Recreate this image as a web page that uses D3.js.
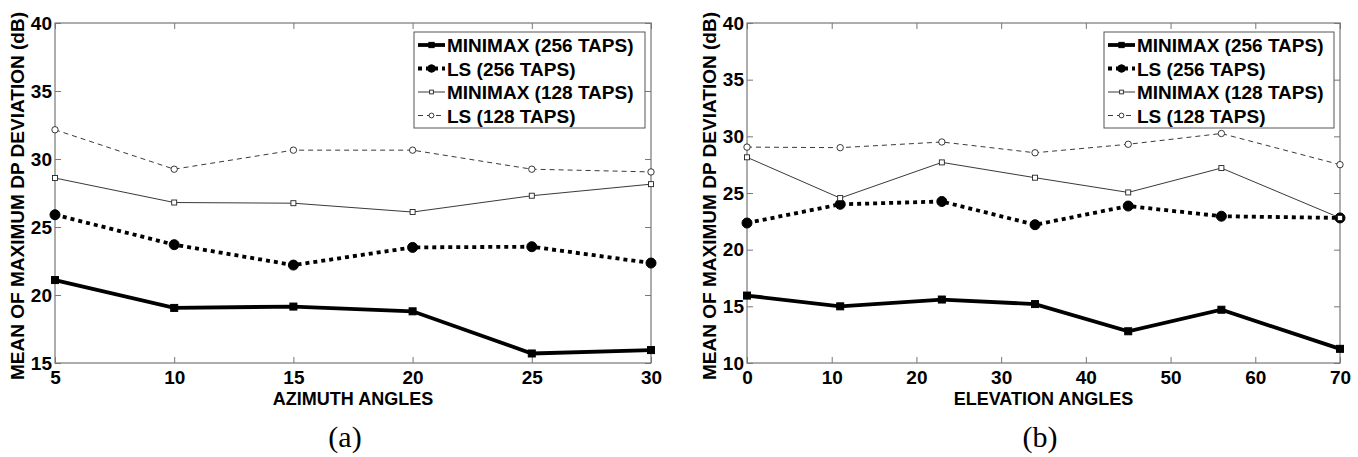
<!DOCTYPE html>
<html lang="en">
<head>
<meta charset="utf-8">
<title>DP deviation vs angles</title>
<script src="https://cdn.jsdelivr.net/npm/d3@7"></script>
<style>
  body { margin: 0; background: #fff; }
  text { font-family: "Liberation Sans", Arial, Helvetica, sans-serif; font-weight: bold; }
</style>
</head>
<body>
<script>
// data
var seriesNames = ["MINIMAX (256 TAPS)", "LS (256 TAPS)", "MINIMAX (128 TAPS)", "LS (128 TAPS)"];

// (a) azimuth
var azimuthAngles = [5, 10, 15, 20, 25, 30];
var azMinimax256 = [21.1, 19.05, 19.15, 18.8, 15.7, 15.95];
var azLs256      = [25.9, 23.7, 22.2, 23.5, 23.55, 22.35];
var azMinimax128 = [28.6, 26.8, 26.75, 26.1, 27.3, 28.15];
var azLs128      = [32.15, 29.25, 30.65, 30.65, 29.25, 29.05];
var azXTicks = [5, 10, 15, 20, 25, 30];
var azYTicks = [15, 20, 25, 30, 35, 40];

// (b) elevation
var elevationAngles = [0, 11, 23, 34, 45, 56, 70];
var elMinimax256 = [15.95, 15.0, 15.6, 15.2, 12.8, 14.7, 11.25];
var elLs256      = [22.35, 24.0, 24.25, 22.2, 23.85, 22.95, 22.8];
var elMinimax128 = [28.15, 24.55, 27.7, 26.35, 25.05, 27.2, 22.8];
var elLs128      = [29.05, 29.0, 29.5, 28.55, 29.3, 30.25, 27.5];
var elXTicks = [0, 10, 20, 30, 40, 50, 60, 70];
var elYTicks = [10, 15, 20, 25, 30, 35, 40];

var svg = d3.select("body").append("svg").attr("width", 1358).attr("height", 457);

// line styles for the 4 series
var styles = [
  {width: 3.8, dash: null,  color: "#000", marker: "square", size: 7,   fill: "#000"},
  {width: 3.8, dash: "4,4", color: "#000", marker: "circle", size: 5,   fill: "#000"},
  {width: 0.9, dash: null,  color: "#222", marker: "square", size: 5,   fill: "#fff"},
  {width: 0.9, dash: "5,4", color: "#222", marker: "circle", size: 3.2, fill: "#fff"}
];

function drawPanel(opt) {
  var g = svg.append("g");
  var x = d3.scaleLinear().domain(opt.xDomain).range([opt.left, opt.right]);
  var y = d3.scaleLinear().domain(opt.yDomain).range([opt.bottom, opt.top]);
  var tick = 6;

  // frame
  g.append("rect")
    .attr("x", opt.left).attr("y", opt.top)
    .attr("width", opt.right - opt.left).attr("height", opt.bottom - opt.top)
    .attr("fill", "none").attr("stroke", "#777").attr("stroke-width", 1.2);

  // ticks, inside on all four sides
  var bottomAxis = d3.axisBottom(x).tickValues(opt.xTicks).tickSizeInner(-tick).tickSizeOuter(0).tickPadding(8);
  var topAxis = d3.axisTop(x).tickValues(opt.xTicks).tickSizeInner(-tick).tickSizeOuter(0).tickFormat("");
  var leftAxis = d3.axisLeft(y).tickValues(opt.yTicks).tickSizeInner(-tick).tickSizeOuter(0).tickPadding(3);
  var rightAxis = d3.axisRight(y).tickValues(opt.yTicks).tickSizeInner(-tick).tickSizeOuter(0).tickFormat("");

  [
    [bottomAxis, "translate(0," + opt.bottom + ")"],
    [topAxis, "translate(0," + opt.top + ")"],
    [leftAxis, "translate(" + opt.left + ",0)"],
    [rightAxis, "translate(" + opt.right + ",0)"]
  ].forEach(function(a) {
    var ax = g.append("g").attr("transform", a[1]).call(a[0]);
    ax.select(".domain").remove();
    ax.selectAll("line").attr("stroke", "#777");
    ax.selectAll("text").attr("fill", "#000").attr("font-size", 19)
      .attr("font-family", "Liberation Sans, Arial, sans-serif").attr("font-weight", "bold");
  });

  // series
  opt.series.forEach(function(vals, i) {
    var st = styles[i];
    var pts = opt.xs.map(function(v, j) { return [v, vals[j]]; });
    var line = d3.line().x(function(d) { return x(d[0]); }).y(function(d) { return y(d[1]); });
    g.append("path").datum(pts)
      .attr("d", line)
      .attr("fill", "none")
      .attr("stroke", st.color)
      .attr("stroke-width", st.width)
      .attr("stroke-dasharray", st.dash);
    drawMarkers(g, pts.map(function(p) { return [x(p[0]), y(p[1])]; }), st, 1);
  });

  // axis titles
  g.append("text")
    .attr("x", (opt.left + opt.right) / 2).attr("y", opt.bottom + 42)
    .attr("text-anchor", "middle").attr("font-size", 18)
    .text(opt.xTitle);

  g.append("text")
    .attr("transform", "translate(" + (opt.left - 31) + "," + ((opt.top + opt.bottom) / 2 + 3) + ") rotate(-90)")
    .attr("text-anchor", "middle").attr("font-size", 19)
    .attr("textLength", 368).attr("lengthAdjust", "spacingAndGlyphs")
    .text("MEAN OF MAXIMUM DP DEVIATION (dB)");

  // panel caption
  g.append("text")
    .attr("x", opt.captionX).attr("y", 447)
    .attr("text-anchor", "middle")
    .style("font-family", "'Liberation Serif', 'Times New Roman', serif")
    .style("font-weight", "normal").attr("font-size", 30)
    .text(opt.caption);

  // legend
  var lg = g.append("g");
  var lx = opt.legendX, ly = 32, lw = opt.right - 6 - lx, rowH = 23.5;
  lg.append("rect")
    .attr("x", lx).attr("y", ly).attr("width", lw).attr("height", 96)
    .attr("fill", "#fff").attr("stroke", "#555").attr("stroke-width", 1);
  seriesNames.forEach(function(name, i) {
    var st = styles[i];
    var cy = ly + 13 + i * rowH;
    lg.append("line")
      .attr("x1", lx + 4).attr("x2", lx + 31).attr("y1", cy).attr("y2", cy)
      .attr("stroke", st.color).attr("stroke-width", st.width)
      .attr("stroke-dasharray", st.dash);
    drawMarkers(lg, [[lx + 17.5, cy]], st, 0.75);
    lg.append("text")
      .attr("x", lx + 33).attr("y", cy + 7)
      .attr("font-size", 19)
      .text(name);
  });
}

function drawMarkers(g, pts, st, k) {
  var s = st.size * k;
  if (st.marker === "square") {
    g.selectAll(null).data(pts).enter().append("rect")
      .attr("x", function(d) { return d[0] - s / 2; })
      .attr("y", function(d) { return d[1] - s / 2; })
      .attr("width", s).attr("height", s)
      .attr("fill", st.fill).attr("stroke", st.color).attr("stroke-width", st.fill === "#fff" ? 0.9 : 1);
  } else {
    g.selectAll(null).data(pts).enter().append("circle")
      .attr("cx", function(d) { return d[0]; })
      .attr("cy", function(d) { return d[1]; })
      .attr("r", s)
      .attr("fill", st.fill).attr("stroke", st.color).attr("stroke-width", st.fill === "#fff" ? 0.9 : 1);
  }
}

drawPanel({
  left: 55, right: 651, top: 23, bottom: 363,
  xDomain: [5, 30], yDomain: [15, 40],
  xTicks: azXTicks, yTicks: azYTicks,
  xs: azimuthAngles,
  series: [azMinimax256, azLs256, azMinimax128, azLs128],
  xTitle: "AZIMUTH ANGLES",
  caption: "(a)", captionX: 345,
  legendX: 414
});

drawPanel({
  left: 747, right: 1340, top: 23, bottom: 363,
  xDomain: [0, 70], yDomain: [10, 40],
  xTicks: elXTicks, yTicks: elYTicks,
  xs: elevationAngles,
  series: [elMinimax256, elLs256, elMinimax128, elLs128],
  xTitle: "ELEVATION ANGLES",
  caption: "(b)", captionX: 1040,
  legendX: 1104
});
</script>
</body>
</html>
